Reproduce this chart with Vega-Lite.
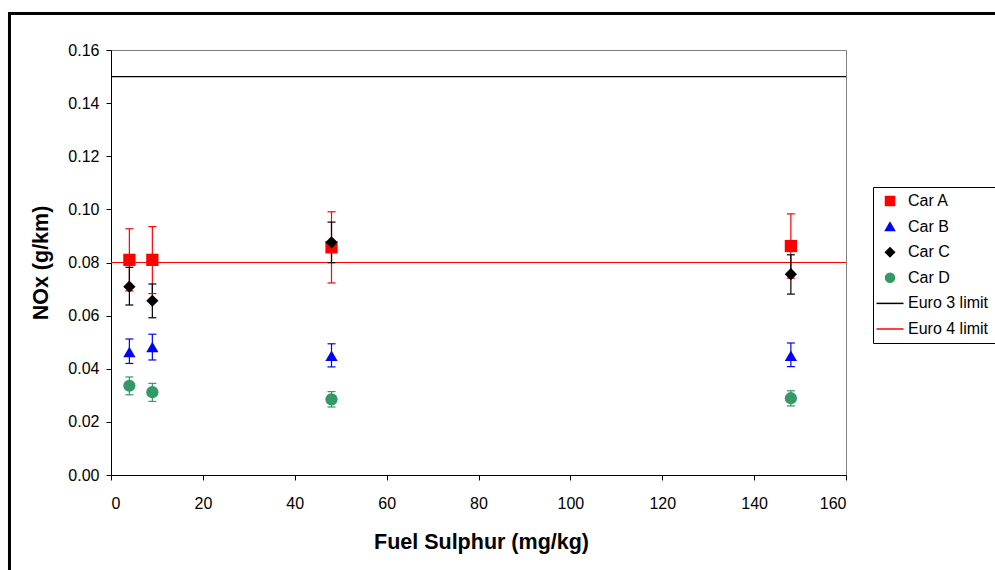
{
  "$schema": "https://vega.github.io/schema/vega-lite/v6.json",
  "width": 735,
  "height": 425,
  "autosize": {"type": "none"},
  "padding": {"left": 111, "top": 50, "right": 149, "bottom": 95},
  "background": "white",
  "config": {
    "font": "Liberation Sans",
    "view": {"stroke": "#808080", "strokeWidth": 1},
    "axis": {
      "domainColor": "black",
      "tickColor": "black",
      "labelColor": "black",
      "titleColor": "black",
      "labelFontSize": 16,
      "titleFontSize": 21.5,
      "titleFontWeight": "bold",
      "tickSize": 5,
      "grid": false
    }
  },
  "datasets": {
    "cars": [
      {"series": "Car A", "sulphur": 4, "nox": 0.0810, "lo": 0.0693, "hi": 0.0927},
      {"series": "Car A", "sulphur": 9, "nox": 0.0810, "lo": 0.0683, "hi": 0.0935},
      {"series": "Car A", "sulphur": 48, "nox": 0.0857, "lo": 0.0723, "hi": 0.0991},
      {"series": "Car A", "sulphur": 148, "nox": 0.0862, "lo": 0.0741, "hi": 0.0983},
      {"series": "Car B", "sulphur": 4, "nox": 0.0463, "lo": 0.0420, "hi": 0.0512},
      {"series": "Car B", "sulphur": 9, "nox": 0.0482, "lo": 0.0433, "hi": 0.0530},
      {"series": "Car B", "sulphur": 48, "nox": 0.0449, "lo": 0.0407, "hi": 0.0494},
      {"series": "Car B", "sulphur": 148, "nox": 0.0449, "lo": 0.0408, "hi": 0.0497},
      {"series": "Car C", "sulphur": 4, "nox": 0.0709, "lo": 0.0640, "hi": 0.0782},
      {"series": "Car C", "sulphur": 9, "nox": 0.0656, "lo": 0.0592, "hi": 0.0719},
      {"series": "Car C", "sulphur": 48, "nox": 0.0876, "lo": 0.0799, "hi": 0.0952},
      {"series": "Car C", "sulphur": 148, "nox": 0.0756, "lo": 0.0681, "hi": 0.0829},
      {"series": "Car D", "sulphur": 4, "nox": 0.0336, "lo": 0.0302, "hi": 0.0369},
      {"series": "Car D", "sulphur": 9, "nox": 0.0312, "lo": 0.0277, "hi": 0.0345},
      {"series": "Car D", "sulphur": 48, "nox": 0.0285, "lo": 0.0256, "hi": 0.0314},
      {"series": "Car D", "sulphur": 148, "nox": 0.0289, "lo": 0.0260, "hi": 0.0317}
    ],
    "limits": [
      {"series": "Euro 3 limit", "limit": 0.15},
      {"series": "Euro 4 limit", "limit": 0.08}
    ]
  },
  "layer": [
    {
      "data": {"values": [{}]},
      "mark": {"type": "rect", "filled": false, "stroke": "black", "strokeWidth": 3, "clip": false},
      "encoding": {
        "x": {"datum": -22.1, "type": "quantitative"},
        "x2": {"datum": 250},
        "y": {"datum": 0.17374, "type": "quantitative"},
        "y2": {"datum": -0.1}
      }
    },
    {
      "data": {"name": "limits"},
      "mark": {"type": "rule", "strokeWidth": 1.2},
      "encoding": {
        "y": {"field": "limit", "type": "quantitative"},
        "color": {"field": "series", "type": "nominal"}
      }
    },
    {
      "data": {"name": "cars"},
      "mark": {"type": "rule", "strokeWidth": 1.2},
      "encoding": {
        "x": {"field": "sulphur", "type": "quantitative"},
        "y": {"field": "lo", "type": "quantitative"},
        "y2": {"field": "hi"},
        "color": {"field": "series", "type": "nominal"}
      }
    },
    {
      "data": {"name": "cars"},
      "mark": {"type": "tick", "orient": "horizontal", "size": 8, "thickness": 1.2, "opacity": 1},
      "encoding": {
        "x": {"field": "sulphur", "type": "quantitative"},
        "y": {"field": "lo", "type": "quantitative"},
        "color": {"field": "series", "type": "nominal"}
      }
    },
    {
      "data": {"name": "cars"},
      "mark": {"type": "tick", "orient": "horizontal", "size": 8, "thickness": 1.2, "opacity": 1},
      "encoding": {
        "x": {"field": "sulphur", "type": "quantitative"},
        "y": {"field": "hi", "type": "quantitative"},
        "color": {"field": "series", "type": "nominal"}
      }
    },
    {
      "data": {"name": "cars"},
      "mark": {"type": "point", "filled": true, "opacity": 1, "size": 150},
      "encoding": {
        "x": {
          "field": "sulphur", "type": "quantitative",
          "scale": {"domain": [0, 160], "nice": false},
          "axis": {"values": [0, 20, 40, 60, 80, 100, 120, 140, 160], "title": "Fuel Sulphur (mg/kg)", "titleX": 370, "titleY": 67, "titleBaseline": "middle", "labelPadding": 15}
        },
        "y": {
          "field": "nox", "type": "quantitative",
          "scale": {"domain": [0, 0.16], "nice": false},
          "axis": {"values": [0, 0.02, 0.04, 0.06, 0.08, 0.1, 0.12, 0.14, 0.16], "format": ".2f", "title": "NOx (g/km)", "titleX": -70, "titleY": 212.5, "titleBaseline": "middle", "titleAlign": "center", "titleAngle": -90, "labelPadding": 7}
        },
        "color": {
          "field": "series", "type": "nominal",
          "scale": {
            "domain": ["Car A", "Car B", "Car C", "Car D", "Euro 3 limit", "Euro 4 limit"],
            "range": ["#FF0000", "#0000FF", "#000000", "#339966", "#000000", "#FF0000"]
          },
          "legend": {
            "title": null, "orient": "none", "legendX": 762, "legendY": 137,
            "padding": 6, "strokeColor": "black", "fillColor": "white",
            "labelFontSize": 16, "labelColor": "black",
            "symbolSize": 81, "symbolStrokeWidth": 1.5, "symbolOffset": 3,
            "labelOffset": 10, "rowPadding": 9.6
          }
        },
        "shape": {
          "field": "series", "type": "nominal",
          "scale": {
            "domain": ["Car A", "Car B", "Car C", "Car D", "Euro 3 limit", "Euro 4 limit"],
            "range": ["square", "triangle-up", "diamond", "circle", "M-3,0H3", "M-3,0H3"]
          },
          "legend": {
            "title": null, "orient": "none", "legendX": 762, "legendY": 137,
            "padding": 6, "strokeColor": "black", "fillColor": "white",
            "labelFontSize": 16, "labelColor": "black",
            "symbolSize": 81, "symbolStrokeWidth": 1.5, "symbolOffset": 3,
            "labelOffset": 10, "rowPadding": 9.6
          }
        }
      }
    }
  ]
}
